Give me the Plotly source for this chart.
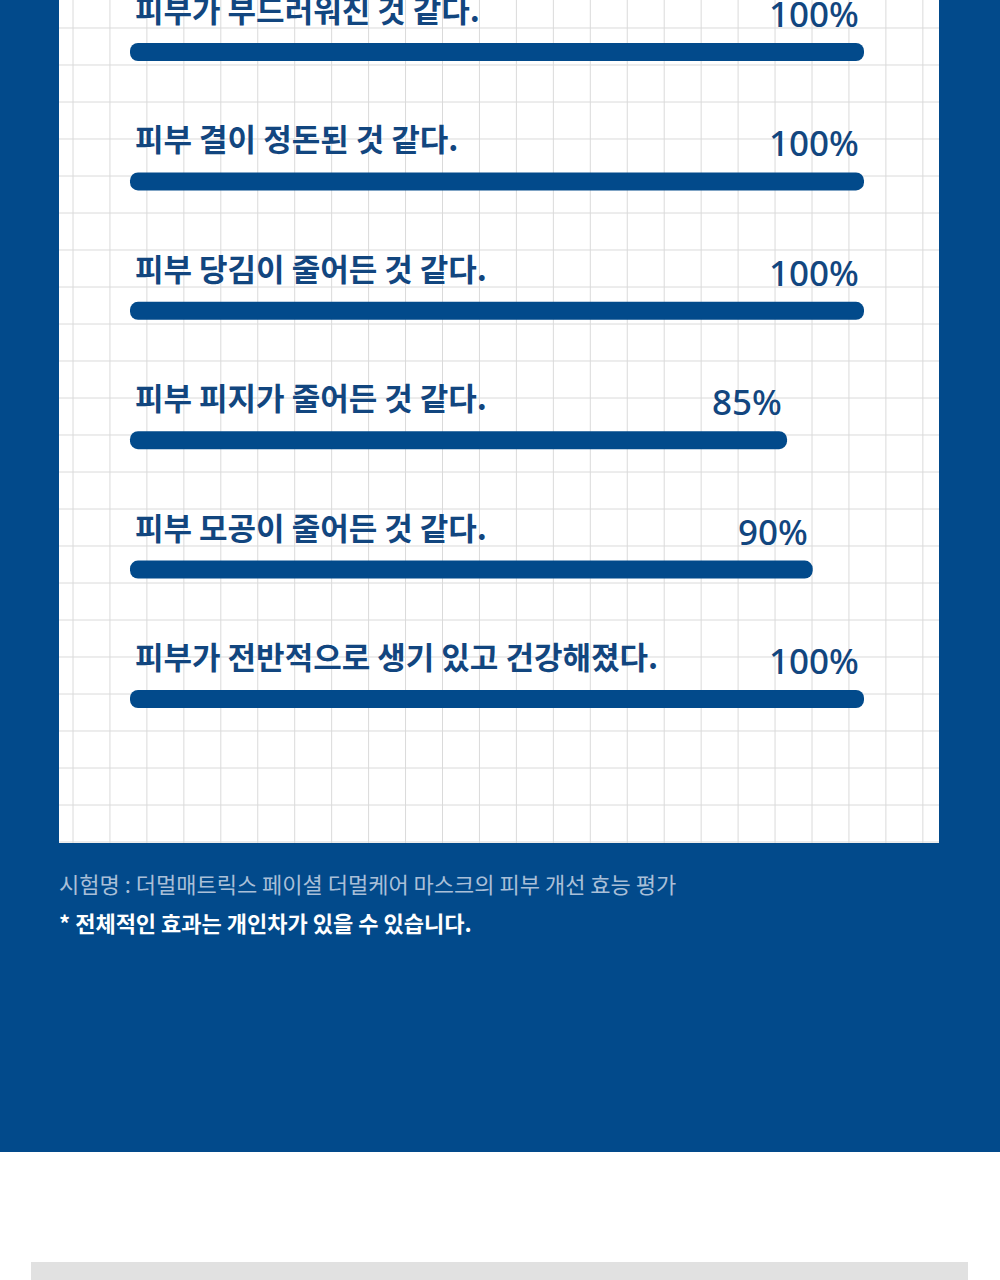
import plotly.graph_objects as go

# ---- data ----
categories = [
    "피부가 부드러워진 것 같다.",
    "피부 결이 정돈된 것 같다.",
    "피부 당김이 줄어든 것 같다.",
    "피부 피지가 줄어든 것 같다.",
    "피부 모공이 줄어든 것 같다.",
    "피부가 전반적으로 생기 있고 건강해졌다.",
]
values = [100, 100, 100, 85, 90, 100]
value_labels = ["100%", "100%", "100%", "85%", "90%", "100%"]
note_title = "시험명 : 더멀매트릭스 페이셜 더멀케어 마스크의 피부 개선 효능 평가"
note_disclaimer = "* 전체적인 효과는 개인차가 있을 수 있습니다."

# ---- style ----
W, H = 1000, 1280
BLUE = "#024a8b"
TEXT_BLUE = "#12467f"
GRID = "#dadada"
X_RANGE = [-68.42, 126.51]
BAR_BASE = -43.08
Y_RANGE = [9.490, -0.4019]
BAR_W = 0.139

def px(x):
    return x / W

def py(y):
    return 1 - y / H

fig = go.Figure()
fig.add_trace(go.Bar(
    y=categories,
    x=[v - BAR_BASE for v in values],
    base=BAR_BASE,
    orientation="h",
    width=BAR_W,
    marker=dict(color=BLUE, line=dict(width=0), cornerradius=9),
    hoverinfo="skip",
))

shapes = []
shapes.append(dict(type="rect", xref="paper", yref="paper", x0=0, x1=1,
                   y0=py(1152), y1=1, fillcolor=BLUE, line=dict(width=0), layer="below"))
shapes.append(dict(type="rect", xref="paper", yref="paper", x0=px(59), x1=px(939),
                   y0=py(843), y1=1, fillcolor="white", line=dict(width=0), layer="below"))
shapes.append(dict(type="rect", xref="paper", yref="paper", x0=px(31), x1=px(968),
                   y0=0, y1=py(1262), fillcolor="#e1e1e1", line=dict(width=0), layer="below"))
path = []
gx = 73.0
while gx < 939:
    path.append(f"M{px(gx):.5f},{py(0):.5f}L{px(gx):.5f},{py(843):.5f}")
    gx += 36.95
gy = 28.0
while gy < 843:
    path.append(f"M{px(59):.5f},{py(gy):.5f}L{px(939):.5f},{py(gy):.5f}")
    gy += 37.0
shapes.append(dict(type="path", xref="paper", yref="paper", path="".join(path),
                   line=dict(color=GRID, width=1), layer="below"))

annotations = []
for c, v, lab in zip(categories, values, value_labels):
    annotations.append(dict(
        x=BAR_BASE, y=c, xref="x", yref="y", text=c, showarrow=False,
        xanchor="left", yanchor="bottom", xshift=4, yshift=20, borderpad=0,
        font=dict(family="Noto Sans CJK KR", size=31, color=TEXT_BLUE, weight=700),
    ))
    annotations.append(dict(
        x=v, y=c, xref="x", yref="y", text=lab, showarrow=False,
        xanchor="right", yanchor="bottom", xshift=-4, yshift=14, borderpad=0,
        font=dict(family="Noto Sans", size=35, color=TEXT_BLUE, weight=500),
    ))

annotations.append(dict(
    x=px(58), y=py(883), xref="paper", yref="paper", text=note_title, showarrow=False,
    xanchor="left", yanchor="middle", borderpad=0,
    font=dict(family="Noto Sans CJK KR", size=22, color="#a9bfd8"),
))
annotations.append(dict(
    x=px(58), y=py(922), xref="paper", yref="paper", text=note_disclaimer, showarrow=False,
    xanchor="left", yanchor="middle", borderpad=0,
    font=dict(family="Noto Sans CJK KR", size=22, color="white", weight=700),
))

fig.update_layout(
    width=W, height=H,
    margin=dict(l=0, r=0, t=0, b=0),
    paper_bgcolor="white",
    plot_bgcolor="rgba(0,0,0,0)",
    showlegend=False,
    xaxis=dict(range=X_RANGE, visible=False, fixedrange=True),
    yaxis=dict(range=Y_RANGE, visible=False, fixedrange=True,
               type="category", categoryorder="array", categoryarray=categories),
    shapes=shapes,
    annotations=annotations,
)

fig.write_html("out.html")
